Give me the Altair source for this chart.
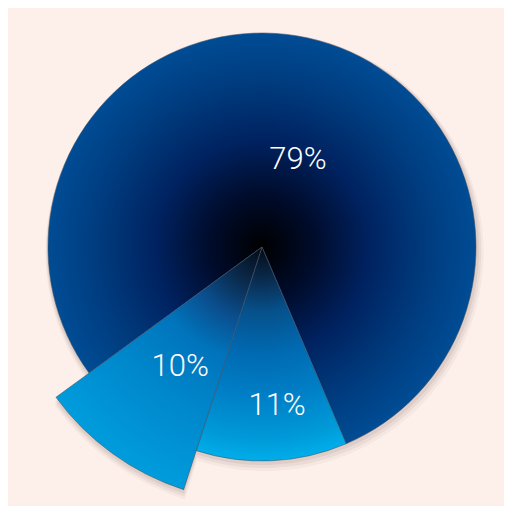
import math
import altair as alt
import pandas as pd

# ---- data ----
labels = ["79%", "11%", "10%"]
values = [78.6, 11.4, 10.0]
order = [0, 1, 2]

# colour stops (offset along radius, colour) for each slice
stops_by_label = {
    "79%": [(0, "#000000"), (0.25, "#000c2c"), (0.5, "#002260"), (0.75, "#003a7c"), (1, "#004c94")],
    "11%": [(0, "#050a14"), (0.15, "#0a2a4c"), (0.3, "#06508a"), (0.5, "#006ab2"),
            (0.7, "#007fc6"), (0.9, "#009ad8"), (1, "#00aeea")],
    "10%": [(0, "#050a14"), (0.15, "#0a2a4c"), (0.3, "#0a5090"), (0.45, "#0074bc"),
            (0.7, "#0088cc"), (1, "#009cdc")],
}

df = pd.DataFrame({"label": labels, "value": values, "order": order})

# ---- layout ----
W, H = 496, 498
CX, CY = 254, 239
R = 214
R_EXPLODE = 255
START_DEG = 233.9
START = math.radians(START_DEG)

theta_scale = alt.Scale(domain=[0, 100], range=[START, START + 2 * math.pi])

base = alt.Chart(df).transform_window(
    cum="sum(value)", sort=[alt.SortField("order")], frame=[None, 0]
).transform_calculate(
    start="datum.cum - datum.value",
    mid="datum.cum - datum.value / 2",
    rad=f"datum.label == '10%' ? {R_EXPLODE} : {R}",
    lrad="datum.label == '79%' ? 94 : (datum.label == '11%' ? 160 : 145)",
    lshift="datum.label == '79%' ? 1.97 : (datum.label == '11%' ? -0.78 : -0.44)",
).transform_calculate(lmid="datum.mid + datum.lshift")


def sector_bbox(cx, cy, r, a0, a1):
    pts = [(cx, cy)]
    for a in (a0, a1):
        t = math.radians(a)
        pts.append((cx + r * math.sin(t), cy - r * math.cos(t)))
    k = math.ceil(a0 / 90.0) * 90
    while k < a1:
        t = math.radians(k)
        pts.append((cx + r * math.sin(t), cy - r * math.cos(t)))
        k += 90
    xs = [p[0] for p in pts]
    ys = [p[1] for p in pts]
    return min(xs), min(ys), max(xs), max(ys)


def radial_fill(r, a0, a1, stops):
    x0, y0, x1, y1 = sector_bbox(CX, CY, r, a0, a1)
    w, h = x1 - x0, y1 - y0
    s = max(w, h)
    ox = x0 + (w - s) / 2
    oy = y0 + (h - s) / 2
    gx = (CX - ox) / s
    gy = (CY - oy) / s
    gr = r / s
    return {
        "gradient": "radial",
        "x1": gx, "y1": gy, "r1": 0,
        "x2": gx, "y2": gy, "r2": gr,
        "stops": [{"offset": o, "color": c} for o, c in stops],
    }


shadows = []
for off, op in [(5, 0.05), (3.5, 0.07), (2, 0.09)]:
    shadows.append(
        base.transform_calculate(rs=f"datum.rad + {off}").mark_arc(fill="#6b4a3a", fillOpacity=op).encode(
            theta=alt.Theta("start:Q", scale=theta_scale),
            theta2="cum:Q",
            radius=alt.Radius("rs:Q", scale=None),
            x=alt.value(CX + off / 2),
            y=alt.value(CY + off),
        )
    )

slice_layers = []
acc = 0.0
for lab, val in zip(labels, values):
    a0 = START_DEG + acc * 3.6
    a1 = START_DEG + (acc + val) * 3.6
    acc += val
    r = R_EXPLODE if lab == "10%" else R
    grad = radial_fill(r, a0, a1, stops_by_label[lab])
    slice_layers.append(
        base.transform_filter(f"datum.label == '{lab}'").mark_arc(
            fill=grad, stroke="#3d5068", strokeWidth=0.7, strokeOpacity=0.8
        ).encode(
            theta=alt.Theta("start:Q", scale=theta_scale),
            theta2="cum:Q",
            radius=alt.Radius("rad:Q", scale=None),
            x=alt.value(CX),
            y=alt.value(CY),
        )
    )

text = base.mark_text(
    font="Roboto", fontWeight=300, fontSize=31, color="white", align="center", baseline="middle"
).encode(
    theta=alt.Theta("lmid:Q", scale=theta_scale),
    radius=alt.Radius("lrad:Q", scale=None),
    text="label:N",
    x=alt.value(CX),
    y=alt.value(CY),
)

chart = alt.layer(*shadows, *slice_layers, text).properties(
    width=W, height=H, background="#fdf0eb", padding=0, autosize="none"
).configure_view(strokeWidth=0)

chart.save("out.html", embed_options={"renderer": "svg", "actions": False})
